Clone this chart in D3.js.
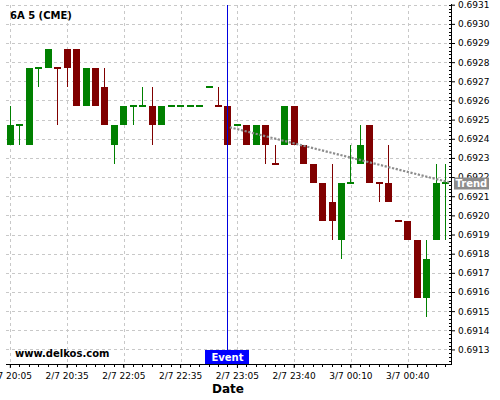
<!DOCTYPE html>
<html><head><meta charset="utf-8">
<script src="https://cdn.jsdelivr.net/npm/d3@7"></script>
<style>body{margin:0;background:#fff} svg{display:block} text{font-family:"DejaVu Sans",sans-serif}</style>
</head><body><svg id="c" width="500" height="400"></svg>
<script>
const opens  = [0.69237,0.69247,0.69237,0.69277,0.69277,0.69277,0.69287,0.69287,0.69257,0.69277,
                0.69267,0.69237,0.69247,0.69257,0.69257,0.69257,0.69247,0.69257,0.69257,0.69257,
                0.69257,0.69267,0.69257,0.69257,0.69247,0.69247,0.69237,0.69247,0.69227,0.69237,
                0.69257,0.69237,0.69227,0.69217,0.69207,0.69187,0.69217,0.69227,0.69247,0.69217,
                0.69217,0.69197,0.69197,0.69187,0.69157,0.69187,0.69217];
const highs  = [0.69257,0.69247,0.69277,0.69277,0.69287,0.69277,0.69287,0.69287,0.69277,0.69277,
                0.69277,0.69247,0.69257,0.69257,0.69267,0.69267,0.69257,0.69257,0.69257,0.69257,
                0.69257,0.69267,0.69267,0.69257,0.69247,0.69247,0.69247,0.69247,0.69237,0.69257,
                0.69257,0.69237,0.69227,0.69217,0.69227,0.69217,0.69237,0.69247,0.69247,0.69217,
                0.69237,0.69197,0.69197,0.69187,0.69187,0.69227,0.69227];
const lows   = [0.69237,0.69237,0.69237,0.69267,0.69277,0.69247,0.69267,0.69257,0.69257,0.69257,
                0.69247,0.69227,0.69247,0.69247,0.69257,0.69237,0.69247,0.69257,0.69257,0.69257,
                0.69257,0.69267,0.69257,0.69237,0.69247,0.69237,0.69237,0.69227,0.69227,0.69237,
                0.69237,0.69227,0.69217,0.69197,0.69187,0.69177,0.69217,0.69227,0.69217,0.69207,
                0.69207,0.69197,0.69187,0.69157,0.69147,0.69187,0.69187];
const closes = [0.69247,0.69247,0.69277,0.69277,0.69287,0.69277,0.69277,0.69257,0.69277,0.69257,
                0.69247,0.69247,0.69257,0.69257,0.69257,0.69247,0.69257,0.69257,0.69257,0.69257,
                0.69257,0.69267,0.69257,0.69237,0.69247,0.69237,0.69247,0.69237,0.69227,0.69257,
                0.69237,0.69227,0.69217,0.69197,0.69197,0.69217,0.69217,0.69237,0.69217,0.69217,
                0.69207,0.69197,0.69187,0.69157,0.69177,0.69217,0.69217];
// 1 = up candle, -1 = down candle (needed for dojis)
const dirs   = [1,1,1,1,1,-1,-1,-1,1,-1, -1,1,1,1,1,-1,1,1,1,1, 1,1,-1,-1,1,-1,1,-1,-1,1,
                -1,-1,-1,-1,-1,1,1,1,-1,-1, -1,-1,-1,-1,1,1,1];
const tickIdx = [0,6,12,18,24,30,36,42];
const tickLabels = ["2/7 20:05","2/7 20:35","2/7 22:05","2/7 22:35","2/7 23:05","2/7 23:40","3/7 00:10","3/7 00:40"];
const yTicks = [0.6913,0.6914,0.6915,0.6916,0.6917,0.6918,0.6919,0.6920,0.6921,0.6922,
                0.6923,0.6924,0.6925,0.6926,0.6927,0.6928,0.6929,0.6930,0.6931];
const eventIndex = 23;
const trendIdx = [23.2, 46.6];
const trendVal = [0.69246, 0.69217];

const svg = d3.select("#c");
const L = 6, R = 451, T = 4.7, B = 364;
const idx = d3.range(opens.length);
const x = d3.scaleBand().domain(idx).range([5.6, 450.3]).paddingInner(0.26).paddingOuter(0.13);
const xc = i => x.range()[0] + x.step() * (i + 0.5);
const y = d3.scaleLinear().domain([0.691224, 0.6931]).range([B, T]);
const GREEN = "#008000", RED = "#800000";

// grid
const grid = svg.append("g").attr("stroke", "#c8c8c8").attr("stroke-dasharray", "3,3").attr("stroke-width", 1).attr("shape-rendering","crispEdges");
grid.selectAll(".h").data(yTicks).join("line").attr("x1", L).attr("x2", R).attr("y1", d => Math.round(y(d))+0.5).attr("y2", d => Math.round(y(d))+0.5);
grid.selectAll(".v").data(tickIdx).join("line").attr("y1", T).attr("y2", B).attr("x1", d => Math.round(xc(d))+0.5).attr("x2", d => Math.round(xc(d))+0.5);

// candles
const cg = svg.append("g").attr("shape-rendering", "crispEdges");
const col = i => dirs[i] > 0 ? GREEN : RED;
cg.selectAll(".w").data(idx).join("line")
  .attr("x1", i => Math.floor(xc(i))+0.5).attr("x2", i => Math.floor(xc(i))+0.5)
  .attr("y1", i => y(highs[i])).attr("y2", i => y(lows[i]))
  .attr("stroke", col).attr("stroke-width", 1);
cg.selectAll(".b").data(idx).join("rect")
  .attr("x", i => x(i)).attr("width", x.bandwidth())
  .attr("y", i => opens[i] === closes[i] ? y(closes[i]) - 1 : y(Math.max(opens[i], closes[i])))
  .attr("height", i => opens[i] === closes[i] ? 2 : Math.abs(y(opens[i]) - y(closes[i])))
  .attr("fill", col);

// trend line
svg.append("path")
  .datum(trendIdx.map((t, k) => [t, trendVal[k]]))
  .attr("d", d3.line().x(d => xc(d[0])).y(d => y(d[1])))
  .attr("fill", "none").attr("stroke", "#8c8c8c").attr("stroke-width", 2.2).attr("stroke-dasharray", "2.2,1.6");

// event line
const ex = Math.floor(xc(eventIndex)) + 0.5;
svg.append("line").attr("x1", ex).attr("x2", ex).attr("y1", T).attr("y2", B)
  .attr("stroke", "#0000e0").attr("stroke-width", 1).attr("shape-rendering","crispEdges");

// x axis
const xa = svg.append("g").attr("transform", `translate(0,${B})`)
  .call(d3.axisBottom(x).tickValues(tickIdx).tickFormat(i => tickLabels[tickIdx.indexOf(i)]).tickSize(4).tickPadding(5).tickSizeOuter(0));
xa.select(".domain").remove();
xa.selectAll("text").attr("font-size", 9).attr("font-family", "DejaVu Sans").attr("fill", "#000");
xa.selectAll("line").attr("stroke", "#000");
svg.append("g").selectAll("line").data(idx).join("line")
  .attr("x1", i => Math.floor(xc(i))+0.5).attr("x2", i => Math.floor(xc(i))+0.5)
  .attr("y1", B).attr("y2", B + 3).attr("stroke", "#000").attr("shape-rendering","crispEdges");
svg.append("line").attr("x1", L).attr("x2", R).attr("y1", B + 0.5).attr("y2", B + 0.5).attr("stroke", "#000").attr("shape-rendering","crispEdges");

// y axis (right)
const ya = svg.append("g").attr("transform", `translate(${R},0)`)
  .call(d3.axisRight(y).tickValues(yTicks).tickFormat(d3.format(".4f")).tickSize(4).tickPadding(3).tickSizeOuter(0));
ya.select(".domain").remove();
ya.selectAll("text").attr("font-size", 9).attr("font-family", "DejaVu Sans").attr("fill", "#000");
ya.selectAll("line").attr("stroke", "#000");
const minor = d3.range(0, 95).map(k => 0.69122 + k * 0.00002).filter(v => y(v) >= T - 0.5 && y(v) <= B);
svg.append("g").selectAll("line").data(minor).join("line")
  .attr("x1", R - 2).attr("x2", R).attr("y1", d => Math.round(y(d))+0.5).attr("y2", d => Math.round(y(d))+0.5)
  .attr("stroke", "#000").attr("shape-rendering","crispEdges");
svg.append("line").attr("x1", R + 0.5).attr("x2", R + 0.5).attr("y1", T - 1).attr("y2", B + 1).attr("stroke", "#000").attr("shape-rendering","crispEdges");

// labels
svg.append("text").attr("x", 10).attr("y", 19).attr("font-size", 10).attr("font-weight", "bold").text("6A 5 (CME)");
svg.append("text").attr("x", 15).attr("y", 357).attr("font-size", 10).attr("font-weight", "bold").text("www.delkos.com");
svg.append("text").attr("x", 228).attr("y", 393).attr("font-size", 12).attr("font-weight", "bold").attr("text-anchor", "middle").text("Date");

svg.append("rect").attr("x", ex - 22.5).attr("y", 350).attr("width", 44).attr("height", 14).attr("fill", "#0000ff");
svg.append("text").attr("x", ex).attr("y", 360.5).attr("font-size", 10).attr("font-weight", "bold").attr("fill", "#fff").attr("text-anchor", "middle").text("Event");

svg.append("rect").attr("x", 454).attr("y", 177.5).attr("width", 35).attr("height", 12).attr("fill", "#8c8c8c");
svg.append("text").attr("x", 455.5).attr("y", 187).attr("font-size", 10).attr("font-weight", "bold").attr("fill", "#fff").text("Trend");
</script></body></html>
